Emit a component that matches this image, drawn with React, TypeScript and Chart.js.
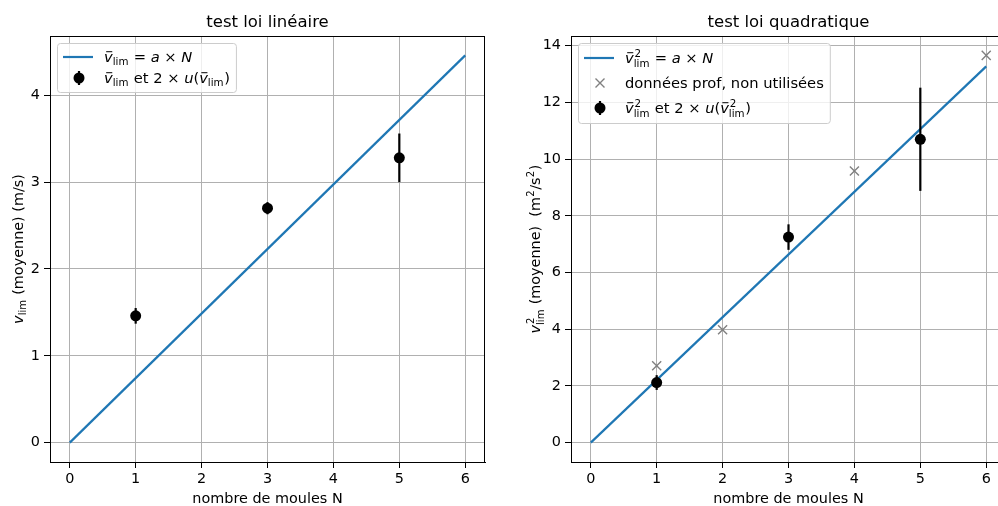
import React, { useEffect, useRef } from 'react';
import { Chart, registerables } from 'chart.js';
Chart.register(...registerables);

const FONT = '"DejaVu Sans", sans-serif';
const BLUE = '#1f77b4';
const GRAY = '#808080';

// ---- data ----
const xTicks = [0, 1, 2, 3, 4, 5, 6];
const fitN = [0, 6];
const fitLinV = [0, 4.46];
const fitQuadV2 = [0, 13.27];
const measN = [1, 3, 5];
const vLim = [1.46, 2.7, 3.28];
const vLimErr = [0.09, 0.07, 0.28];
const v2Lim = [2.12, 7.25, 10.7];
const v2LimErr = [0.26, 0.45, 1.82];
const profN = [1, 2, 4, 6];
const profV2 = [2.71, 3.98, 9.58, 13.66];
const linYTicks = [0, 1, 2, 3, 4];
const quadYTicks = [0, 2, 4, 6, 8, 10, 12, 14];

type Part = { t: string; it?: boolean; bar?: boolean; sub?: string; sup?: string };
type Handle = 'line' | 'cross' | 'err';

const vbar: Part = { t: 'v', it: true, bar: true, sub: 'lim' };
const vbar2: Part = { t: 'v', it: true, bar: true, sub: 'lim', sup: '2' };

function drawRich(ctx: CanvasRenderingContext2D, parts: Part[], x: number, y: number, size: number, draw = true): number {
  let cx = x;
  for (const p of parts) {
    ctx.font = `${p.it ? 'italic ' : ''}${size}px ${FONT}`;
    const w = ctx.measureText(p.t).width;
    if (draw) ctx.fillText(p.t, cx, y);
    if (p.bar && draw) {
      ctx.save();
      ctx.strokeStyle = ctx.fillStyle as string;
      ctx.lineWidth = Math.max(1, size * 0.065);
      ctx.beginPath();
      const by = y - size * 0.7;
      ctx.moveTo(cx + w * 0.25, by);
      ctx.lineTo(cx + w * 0.95, by);
      ctx.stroke();
      ctx.restore();
    }
    cx += w;
    if (p.sub || p.sup) {
      const ss = size * 0.7;
      ctx.font = `${ss}px ${FONT}`;
      let sw = 0;
      if (p.sup) {
        const off = p.it ? size * 0.06 : size * 0.02;
        const w2 = ctx.measureText(p.sup).width;
        if (draw) ctx.fillText(p.sup, cx + off, y - size * 0.42);
        sw = Math.max(sw, w2 + off);
      }
      if (p.sub) {
        const w3 = ctx.measureText(p.sub).width;
        if (draw) ctx.fillText(p.sub, cx, y + size * (p.sup ? 0.25 : 0.2));
        sw = Math.max(sw, w3);
      }
      cx += sw + size * 0.04;
    }
  }
  return cx - x;
}

interface PanelCfg {
  title: string;
  yLabel: Part[];
  yTicks: number[];
  lineY: number[];
  pts: number[];
  errs: number[];
  profX?: number[];
  profY?: number[];
  legend: { handle: Handle; parts: Part[] }[];
  legendBaselines: number[];
  legendHeight: number;
  yAxisWidth: number;
  padRight: number;
  yTitleX: number;
  canvasLeft: number;
  canvasWidth: number;
}

const panels: PanelCfg[] = [
  {
    title: 'test loi linéaire',
    yLabel: [{ t: 'v', it: true, sub: 'lim' }, { t: ' (moyenne) (m/s)' }],
    yTicks: linYTicks,
    lineY: fitLinV,
    pts: vLim,
    errs: vLimErr,
    legend: [
      { handle: 'line', parts: [vbar, { t: ' = ' }, { t: 'a', it: true }, { t: ' × ' }, { t: 'N', it: true }] },
      { handle: 'err', parts: [vbar, { t: ' et 2 × ' }, { t: 'u', it: true }, { t: '(' }, vbar, { t: ')' }] },
    ],
    legendBaselines: [19, 40],
    legendHeight: 49,
    yAxisWidth: 50,
    padRight: 14,
    yTitleX: 23,
    canvasLeft: 0,
    canvasWidth: 499,
  },
  {
    title: 'test loi quadratique',
    yLabel: [{ t: 'v', it: true, sub: 'lim', sup: '2' }, { t: ' (moyenne)  (' }, { t: 'm', sup: '2' }, { t: '/' }, { t: 's', sup: '2' }, { t: ')' }],
    yTicks: quadYTicks,
    lineY: fitQuadV2,
    pts: v2Lim,
    errs: v2LimErr,
    profX: profN,
    profY: profV2,
    legend: [
      { handle: 'line', parts: [vbar2, { t: ' = ' }, { t: 'a', it: true }, { t: ' × ' }, { t: 'N', it: true }] },
      { handle: 'cross', parts: [{ t: 'données prof, non utilisées' }] },
      { handle: 'err', parts: [vbar2, { t: ' et 2 × ' }, { t: 'u', it: true }, { t: '(' }, vbar2, { t: ')' }] },
    ],
    legendBaselines: [20, 45, 70],
    legendHeight: 80,
    yAxisWidth: 72,
    padRight: 14,
    yTitleX: 41,
    canvasLeft: 499,
    canvasWidth: 521,
  },
];

function padRange(vals: number[]): [number, number] {
  const mn = Math.min(...vals);
  const mx = Math.max(...vals);
  const d = (mx - mn) * 0.05;
  return [mn - d, mx + d];
}

function makeChart(canvas: HTMLCanvasElement, p: PanelCfg): Chart {
  const xs = [...fitN, ...measN, ...(p.profX || [])];
  const ys = [...p.lineY, ...p.pts.map((v, i) => v - p.errs[i]), ...p.pts.map((v, i) => v + p.errs[i]), ...(p.profY || [])];
  const [xmin, xmax] = padRange(xs);
  const [ymin, ymax] = padRange(ys);
  const TS = 14.4;
  const LS = 14.7;

  const datasets: any[] = [
    {
      label: 'pts',
      data: measN.map((n, i) => ({ x: n, y: p.pts[i] })),
      pointRadius: 5.5,
      pointBackgroundColor: '#000',
      pointBorderWidth: 0,
      pointStyle: 'circle',
      order: 0,
    },
    {
      label: 'fit',
      data: fitN.map((n, i) => ({ x: n, y: p.lineY[i] })),
      showLine: true,
      borderColor: BLUE,
      borderWidth: 2.2,
      pointRadius: 0,
      order: 2,
    },
  ];
  if (p.profX && p.profY) {
    datasets.push({
      label: 'prof',
      data: p.profX.map((n, i) => ({ x: n, y: p.profY![i] })),
      pointStyle: 'crossRot',
      pointRadius: 6.4,
      pointBorderColor: GRAY,
      pointBorderWidth: 1.4,
      order: 1,
    });
  }

  const plugin = {
    id: 'mpl',
    beforeDatasetDraw(chart: any, args: any) {
      if (args.index !== 0) return;
      const ctx = chart.ctx as CanvasRenderingContext2D;
      const xsc = chart.scales.x, ysc = chart.scales.y;
      ctx.save();
      ctx.strokeStyle = '#000';
      ctx.lineWidth = 2.2;
      measN.forEach((n, i) => {
        const px = xsc.getPixelForValue(n);
        ctx.beginPath();
        ctx.moveTo(px, ysc.getPixelForValue(p.pts[i] - p.errs[i]));
        ctx.lineTo(px, ysc.getPixelForValue(p.pts[i] + p.errs[i]));
        ctx.stroke();
      });
      ctx.restore();
    },
    afterDraw(chart: any) {
      const ctx = chart.ctx as CanvasRenderingContext2D;
      const ca = chart.chartArea;
      ctx.save();
      ctx.strokeStyle = '#000';
      ctx.lineWidth = 1;
      ctx.strokeRect(Math.round(ca.left) + 0.5, Math.round(ca.top) + 0.5, Math.round(ca.right - ca.left) - 1, Math.round(ca.bottom - ca.top));
      ctx.fillStyle = '#000';
      ctx.textBaseline = 'alphabetic';
      ctx.font = `16.5px ${FONT}`;
      const tw = ctx.measureText(p.title).width;
      ctx.fillText(p.title, (ca.left + ca.right) / 2 - tw / 2, 27);
      ctx.font = `${TS}px ${FONT}`;
      const xt = 'nombre de moules N';
      const xw = ctx.measureText(xt).width;
      ctx.fillText(xt, (ca.left + ca.right) / 2 - xw / 2, 503);
      ctx.save();
      ctx.translate(p.yTitleX, (ca.top + ca.bottom) / 2);
      ctx.rotate(-Math.PI / 2);
      const yw = drawRich(ctx, p.yLabel, 0, 0, TS, false);
      drawRich(ctx, p.yLabel, -yw / 2, 0, TS, true);
      ctx.restore();
      // legend
      const bx = ca.left + 7, by = ca.top + 7;
      let maxW = 0;
      p.legend.forEach((it) => { maxW = Math.max(maxW, drawRich(ctx, it.parts, 0, 0, LS, false)); });
      const bw = 47 + maxW + 6;
      ctx.beginPath();
      (ctx as any).roundRect(bx + 0.5, by + 0.5, bw, p.legendHeight, 3);
      ctx.fillStyle = 'rgba(255,255,255,0.8)';
      ctx.fill();
      ctx.strokeStyle = '#cccccc';
      ctx.lineWidth = 1;
      ctx.stroke();
      p.legend.forEach((it, i) => {
        const base = by + p.legendBaselines[i];
        const hy = base - 5;
        if (it.handle === 'line') {
          ctx.strokeStyle = BLUE;
          ctx.lineWidth = 2.2;
          ctx.beginPath();
          ctx.moveTo(bx + 6, hy);
          ctx.lineTo(bx + 36, hy);
          ctx.stroke();
        } else if (it.handle === 'cross') {
          ctx.strokeStyle = GRAY;
          ctx.lineWidth = 1.4;
          const cx = bx + 22, r = 4.5;
          ctx.beginPath();
          ctx.moveTo(cx - r, hy - r); ctx.lineTo(cx + r, hy + r);
          ctx.moveTo(cx - r, hy + r); ctx.lineTo(cx + r, hy - r);
          ctx.stroke();
        } else {
          const cx = bx + 22;
          ctx.strokeStyle = '#000';
          ctx.lineWidth = 2.2;
          ctx.beginPath();
          ctx.moveTo(cx, hy - 7); ctx.lineTo(cx, hy + 7);
          ctx.stroke();
          ctx.fillStyle = '#000';
          ctx.beginPath();
          ctx.arc(cx, hy, 5.5, 0, Math.PI * 2);
          ctx.fill();
        }
        ctx.fillStyle = '#000';
        drawRich(ctx, it.parts, bx + 47, base, LS, true);
      });
      ctx.restore();
    },
  };

  return new Chart(canvas, {
    type: 'scatter',
    data: { datasets },
    plugins: [plugin],
    options: {
      animation: false,
      responsive: false,
      devicePixelRatio: 1,
      layout: { autoPadding: false, padding: { top: 36, left: 0, right: p.padRight, bottom: 0 } },
      plugins: { legend: { display: false }, title: { display: false }, tooltip: { enabled: false } },
      scales: {
        x: {
          type: 'linear',
          min: xmin,
          max: xmax,
          afterBuildTicks: (s: any) => { s.ticks = xTicks.map((v) => ({ value: v })); },
          afterFit: (s: any) => { s.height = 44; s.paddingLeft = 0; s.paddingRight = 0; },
          grid: { color: '#b0b0b0', lineWidth: 1, tickColor: '#000', tickLength: 6 },
          border: { color: '#000', width: 1 },
          ticks: { color: '#000', padding: 3, font: { family: FONT, size: TS }, maxRotation: 0, autoSkip: false },
        },
        y: {
          type: 'linear',
          min: ymin,
          max: ymax,
          afterBuildTicks: (s: any) => { s.ticks = p.yTicks.map((v) => ({ value: v })); },
          afterFit: (s: any) => { s.width = p.yAxisWidth; s.paddingTop = 0; s.paddingBottom = 0; },
          grid: { color: '#b0b0b0', lineWidth: 1, tickColor: '#000', tickLength: 6 },
          border: { color: '#000', width: 1 },
          ticks: { color: '#000', padding: 4, font: { family: FONT, size: TS }, autoSkip: false },
        },
      },
    } as any,
  });
}

function PanelView({ p }: { p: PanelCfg }) {
  const ref = useRef<HTMLCanvasElement>(null);
  useEffect(() => {
    if (!ref.current) return;
    const c = makeChart(ref.current, p);
    return () => c.destroy();
  }, [p]);
  return (
    <div style={{ position: 'absolute', left: p.canvasLeft, top: 0, width: p.canvasWidth, height: 506 }}>
      <canvas ref={ref} width={p.canvasWidth} height={506} style={{ width: p.canvasWidth, height: 506, display: 'block' }} />
    </div>
  );
}

export default function App() {
  return (
    <div style={{ position: 'fixed', left: 0, top: 0, width: 998, height: 506, background: '#fff', overflow: 'hidden' }}>
      <PanelView p={panels[0]} />
      <PanelView p={panels[1]} />
    </div>
  );
}
